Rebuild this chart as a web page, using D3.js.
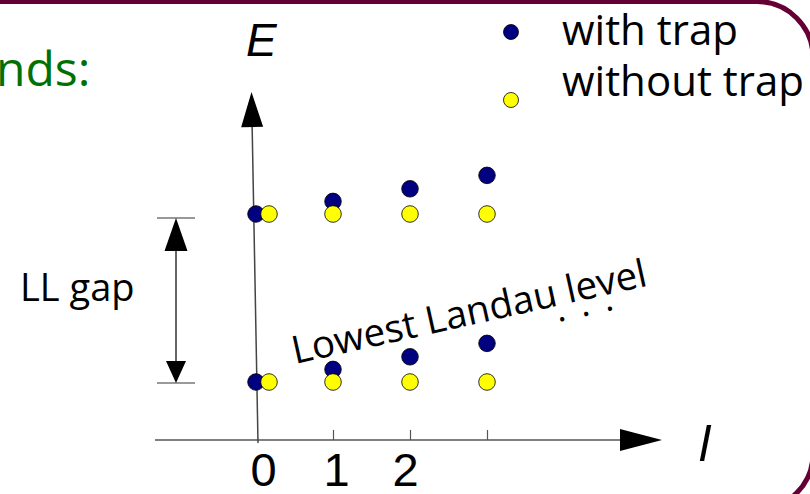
<!DOCTYPE html>
<html>
<head>
<meta charset="utf-8">
<script src="https://cdn.jsdelivr.net/npm/d3@7"></script>
<style>
  body { margin: 0; background: #fff; }
  svg { display: block; }
  .lbl { font-family: "Open Sans", sans-serif; fill: #000; }
  .num { font-family: "Liberation Sans", Arial, sans-serif; fill: #000; }
</style>
</head>
<body>
<div id="chart"></div>
<script>
// angular momentum quantum number l
const lValues = [0, 1, 2, 3];
const tickLabels = ["0", "1", "2", ""];

// energies, in units of the LL gap
const withTrapLowest = [0, 0.075, 0.15, 0.23];
const withTrapSecond = [1, 1.075, 1.15, 1.23];
const withoutTrapLowest = [0, 0, 0, 0];
const withoutTrapSecond = [1, 1, 1, 1];

const legendItems = [
    {key: "with", desc: "with trap"},
    {key: "without", desc: "without trap"}
];

const COLORS = {with: "#000080", without: "#ffff00", frame: "#650035", green: "#007000", grey: "#777"};

const W = 810, H = 494;
const DOT_R = 8.3;
const OVERLAP_DX = 13; // yellow l=0 dot shifted off the axis

var x = d3.scaleLinear().domain([0, 3]).range([256, 487]);
var y = d3.scaleLinear().domain([0, 1]).range([382, 214]);

var svg = d3.select("#chart").append("svg")
            .attr("width", W)
            .attr("height", H);

// slide frame
svg.append("rect")
   .attr("x", -100).attr("y", 1.5)
   .attr("width", 913).attr("height", 508)
   .attr("rx", 56).attr("ry", 56)
   .attr("fill", "none")
   .attr("stroke", COLORS.frame)
   .attr("stroke-width", 5);

svg.append("text")
   .attr("class", "lbl")
   .attr("x", -4).attr("y", 86)
   .attr("font-size", 48)
   .style("fill", COLORS.green)
   .text("nds:");

// x axis
var x0 = 155, x1 = 662, axisY = 440;
svg.append("line")
   .attr("x1", x0).attr("x2", x1 - 38)
   .attr("y1", axisY).attr("y2", axisY)
   .attr("stroke", "#555").attr("stroke-width", 1.5);
svg.append("path")
   .attr("d", "M" + x1 + "," + axisY + "L" + (x1 - 42) + "," + (axisY - 11) + "L" + (x1 - 42) + "," + (axisY + 11) + "Z")
   .attr("fill", "#000");

var xAxis = svg.append("g")
               .attr("transform", "translate(0," + axisY + ")")
               .call(d3.axisBottom(x)
                       .tickValues(lValues)
                       .tickFormat((d, i) => tickLabels[i])
                       .tickSizeInner(-10)
                       .tickSizeOuter(0)
                       .tickPadding(13));
xAxis.select(".domain").remove();
xAxis.selectAll(".tick line").attr("stroke", "#555").attr("stroke-width", 1.2);
xAxis.selectAll(".tick").filter((d) => d === 0).select("line").remove();
xAxis.selectAll(".tick text")
     .attr("class", "num")
     .attr("font-size", 47)
     .attr("dy", "0.71em")
     .attr("dx", (d) => (d === 0 ? 7 : d === 2 ? -5 : 3));

svg.append("text")
   .attr("class", "num")
   .attr("x", 699).attr("y", 461)
   .attr("font-size", 50)
   .attr("font-style", "italic")
   .text("l");

// y axis (slightly tilted, as drawn by hand)
var yb = [258, 443], yt = [251.5, 92];
var ang = Math.atan2(yb[0] - yt[0], yb[1] - yt[1]);
svg.append("line")
   .attr("x1", yb[0]).attr("y1", yb[1])
   .attr("x2", yt[0] + 34 * Math.sin(ang)).attr("y2", yt[1] + 34)
   .attr("stroke", "#444").attr("stroke-width", 1.5);
svg.append("path")
   .attr("d", "M0,0L-11,35L11,35Z")
   .attr("transform", "translate(" + yt[0] + "," + yt[1] + ") rotate(" + (-ang * 180 / Math.PI) + ")")
   .attr("fill", "#000");

svg.append("text")
   .attr("class", "num")
   .attr("x", 246).attr("y", 56)
   .attr("font-size", 46)
   .attr("font-style", "italic")
   .text("E");

// LL gap marker
var gx = 176, gTop = y(1) + 4, gBot = y(0) + 1;
svg.selectAll("line.gap")
   .data([gTop, gBot])
   .enter()
   .append("line")
   .classed("gap", true)
   .attr("x1", 157).attr("x2", 195)
   .attr("y1", (d) => d).attr("y2", (d) => d)
   .attr("stroke", COLORS.grey).attr("stroke-width", 1.5);
svg.append("line")
   .attr("x1", gx).attr("x2", gx)
   .attr("y1", gTop + 30).attr("y2", gBot - 20)
   .attr("stroke", "#000").attr("stroke-width", 1.2);
svg.append("path")
   .attr("d", "M" + gx + "," + gTop + "L" + (gx - 11.5) + "," + (gTop + 33) + "L" + (gx + 11.5) + "," + (gTop + 33) + "Z")
   .attr("fill", "#000");
svg.append("path")
   .attr("d", "M" + gx + "," + gBot + "L" + (gx - 10) + "," + (gBot - 22) + "L" + (gx + 10) + "," + (gBot - 22) + "Z")
   .attr("fill", "#000");
svg.append("text")
   .attr("class", "lbl")
   .attr("x", 20).attr("y", 301)
   .attr("font-size", 38)
   .text("LL gap");

svg.append("text")
   .attr("class", "lbl")
   .attr("transform", "translate(295,364) rotate(-12.5)")
   .attr("font-size", 38.5)
   .text("Lowest Landau level");
svg.append("text")
   .attr("class", "lbl")
   .attr("transform", "translate(558,322) rotate(-12.5)")
   .attr("font-size", 36)
   .attr("letter-spacing", 15)
   .text("...");

// points
var pts = [];
lValues.forEach(function(l, i){
    pts.push({l: l, E: withTrapLowest[i], key: "with"});
    pts.push({l: l, E: withTrapSecond[i], key: "with"});
});
lValues.forEach(function(l, i){
    pts.push({l: l, E: withoutTrapLowest[i], key: "without"});
    pts.push({l: l, E: withoutTrapSecond[i], key: "without"});
});

svg.append("g")
   .selectAll("circle")
   .data(pts)
   .enter()
   .append("circle")
   .attr("cx", (d) => x(d.l) + (d.key === "without" && d.l === 0 ? OVERLAP_DX : 0))
   .attr("cy", (d) => y(d.E))
   .attr("r", DOT_R)
   .attr("fill", (d) => COLORS[d.key])
   .attr("stroke", "#000")
   .attr("stroke-width", 0.8);

// legend
var lg = svg.append("g").attr("transform", "translate(511,0)");
lg.selectAll("circle")
  .data(legendItems)
  .enter()
  .append("circle")
  .attr("cx", 0)
  .attr("cy", (d, i) => (i === 0 ? 32 : 100))
  .attr("r", 7.5)
  .attr("fill", (d) => COLORS[d.key])
  .attr("stroke", "#000")
  .attr("stroke-width", 0.8);
lg.selectAll("text")
  .data(legendItems)
  .enter()
  .append("text")
  .attr("class", "lbl")
  .attr("x", 51)
  .attr("y", (d, i) => 45 + i * 51)
  .attr("font-size", 42)
  .text((d) => d.desc);
</script>
</body>
</html>
